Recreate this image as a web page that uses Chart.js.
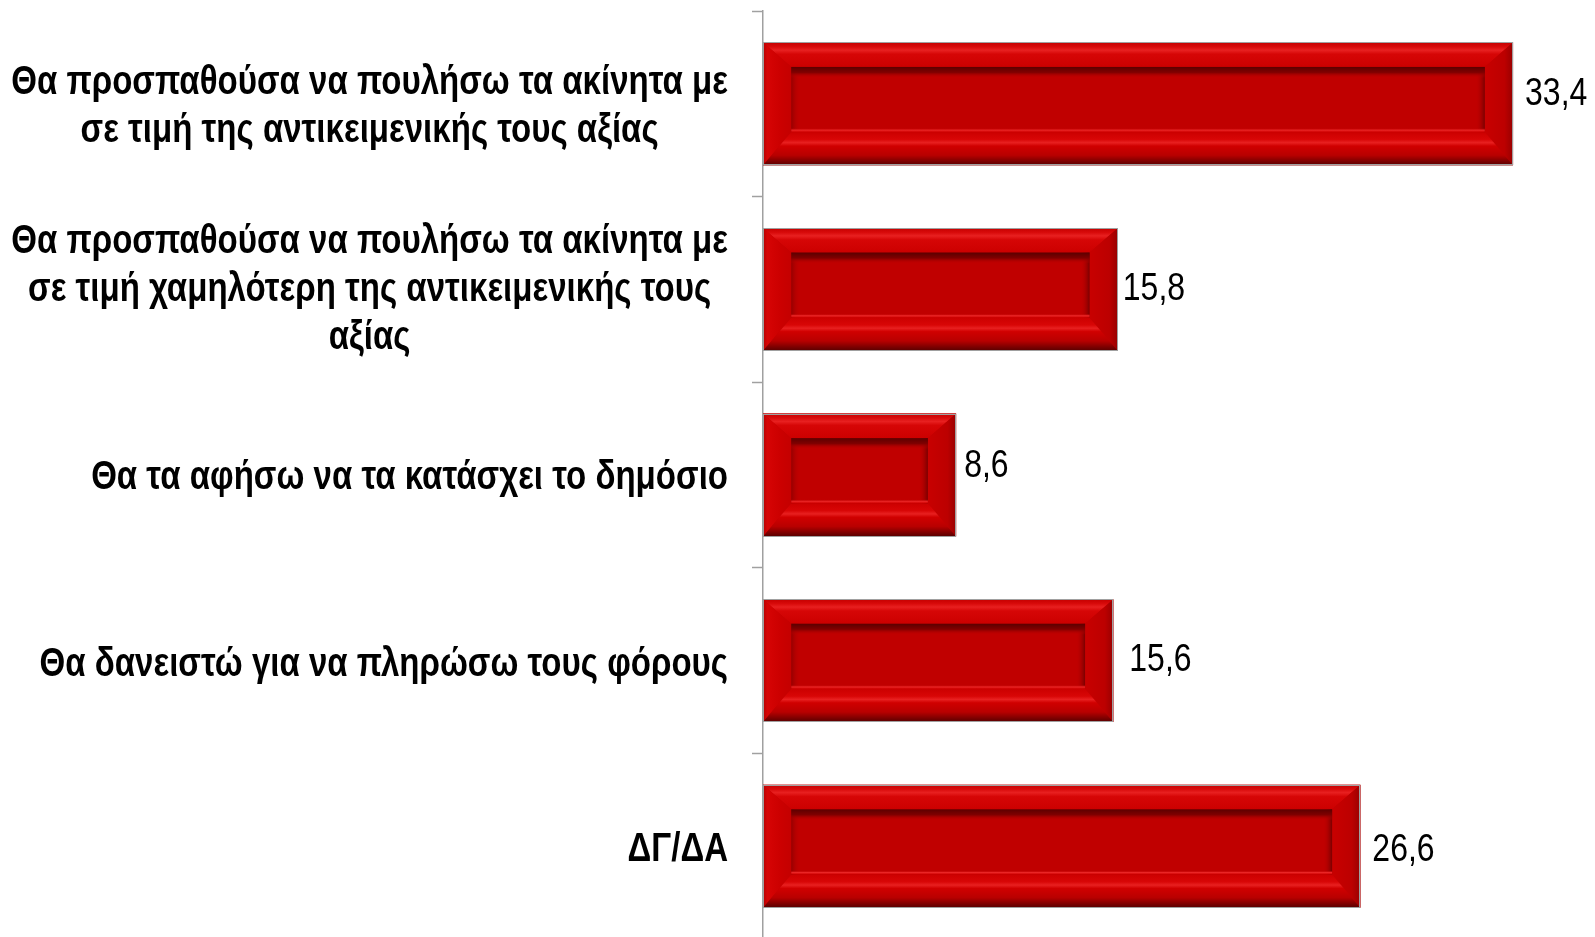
<!DOCTYPE html>
<html>
<head>
<meta charset="utf-8">
<script src="https://cdn.jsdelivr.net/npm/chart.js@4.4.1/dist/chart.umd.min.js"></script>
<style>
  html, body { margin: 0; padding: 0; background: #fff; overflow: hidden; }
  #wrap { width: 1595px; height: 942px; }
</style>
</head>
<body>
<div id="wrap"><canvas id="chart" width="1595" height="942"></canvas></div>
<script>
// ----- Data -----
const categories = [
  ["Θα προσπαθούσα να πουλήσω τα ακίνητα με", "σε τιμή της αντικειμενικής τους αξίας"],
  ["Θα προσπαθούσα να πουλήσω τα ακίνητα με", "σε τιμή χαμηλότερη της αντικειμενικής τους", "αξίας"],
  ["Θα τα αφήσω να τα κατάσχει το δημόσιο"],
  ["Θα δανειστώ για να πληρώσω τους φόρους"],
  ["ΔΓ/ΔΑ"]
];
const values = [33.4, 15.8, 8.6, 15.6, 26.6];
const xMin = 0;
const xMax = 35;

// the labels in the original were nudged by hand (px)
const labelDx = [12, 5, 8, 16, 12];
const labelDy = [-13, -3, -12.5, -4, 1];
const categoryDy = [-2, -4, -2, -1, -1];

const AXIS_GREY = "#a0a0a0";
const FONT = '"Liberation Sans", Arial, sans-serif';
// Arial Narrow ~ Arial squeezed horizontally
const NARROW_VAL = 0.82;
const NARROW_CAT = 0.806;

// ----- Helpers -----
function fmt(v) {
  return v.toFixed(1).replace(".", ",");
}

function narrowText(ctx, text, x, y, sx) {
  ctx.save();
  ctx.translate(x, y);
  ctx.scale(sx, 1);
  ctx.fillText(text, 0, 0);
  ctx.restore();
}

function grad(ctx, x0, y0, x1, y1, stops) {
  const g = ctx.createLinearGradient(x0, y0, x1, y1);
  stops.forEach(s => g.addColorStop(s[0], s[1]));
  return g;
}

function poly(ctx, pts, fill) {
  ctx.beginPath();
  ctx.moveTo(pts[0][0], pts[0][1]);
  for (let i = 1; i < pts.length; i++) ctx.lineTo(pts[i][0], pts[i][1]);
  ctx.closePath();
  ctx.fillStyle = fill;
  ctx.fill();
}

// Excel-style "frame" bevel drawn on top of a plain bar
function drawBevel(ctx, x0, y0, x1, y1) {
  const H = y1 - y0;
  const tT = H * 0.2, tB = H * 0.27, tS = H * 0.23;
  const ix0 = x0 + tS, ix1 = x1 - tS, iy0 = y0 + tT, iy1 = y1 - tB;

  // outer frame: four mitred bands
  poly(ctx, [[x0, y0], [x1, y0], [ix1, iy0], [ix0, iy0]],
    grad(ctx, 0, y0, 0, iy0, [[0, "#c40000"], [0.18, "#d80a0a"], [0.32, "#e82020"], [0.48, "#d60606"], [1, "#cc0000"]]));
  poly(ctx, [[x0, y0], [ix0, iy0], [ix0, iy1], [x0, y1]],
    grad(ctx, x0, 0, ix0, 0, [[0, "#b40000"], [0.15, "#d60404"], [0.6, "#cc0000"], [1, "#c40000"]]));
  poly(ctx, [[x1, y0], [x1, y1], [ix1, iy1], [ix1, iy0]],
    grad(ctx, ix1, 0, x1, 0, [[0, "#c80000"], [0.7, "#bc0000"], [1, "#980000"]]));
  poly(ctx, [[x0, y1], [ix0, iy1], [ix1, iy1], [x1, y1]],
    grad(ctx, 0, iy1, 0, y1, [[0, "#cc0000"], [0.22, "#d80606"], [0.32, "#e82020"], [0.42, "#d00000"], [0.7, "#b80000"], [1, "#580000"]]));

  // inner panel
  ctx.fillStyle = "#c00000";
  ctx.fillRect(ix0, iy0, ix1 - ix0, iy1 - iy0);
  // inner walls
  ctx.fillStyle = grad(ctx, ix0, 0, ix0 + 9, 0, [[0, "#960000"], [1, "rgba(192,0,0,0)"]]);
  ctx.fillRect(ix0, iy0, 9, iy1 - iy0);
  ctx.fillStyle = grad(ctx, ix1 - 9, 0, ix1, 0, [[0, "rgba(192,0,0,0)"], [1, "#7a0000"]]);
  ctx.fillRect(ix1 - 9, iy0, 9, iy1 - iy0);
  ctx.fillStyle = grad(ctx, 0, iy0, 0, iy0 + 11, [[0, "#5c0000"], [0.5, "#800000"], [1, "rgba(192,0,0,0)"]]);
  ctx.fillRect(ix0, iy0, ix1 - ix0, 11);
  ctx.fillStyle = grad(ctx, 0, iy1 - 4, 0, iy1, [[0, "rgba(192,0,0,0)"], [0.5, "#ea2626"], [1, "#d00000"]]);
  ctx.fillRect(ix0, iy1 - 4, ix1 - ix0, 4);

  // thin grey outline
  ctx.strokeStyle = AXIS_GREY;
  ctx.lineWidth = 1;
  ctx.strokeRect(Math.round(x0) + 0.5, Math.round(y0) + 0.5, Math.round(x1 - x0) - 1, Math.round(y1 - y0) - 1);
}

// ----- Plugins -----
const bevelPlugin = {
  id: "bevel",
  afterDatasetsDraw(chart) {
    const ctx = chart.ctx;
    const meta = chart.getDatasetMeta(0);
    ctx.save();
    meta.data.forEach(el => {
      const p = el.getProps(["x", "y", "base", "height"], true);
      drawBevel(ctx, p.base, p.y - p.height / 2, p.x, p.y + p.height / 2);
    });
    ctx.restore();
  }
};

const valueLabelPlugin = {
  id: "valueLabels",
  afterDatasetsDraw(chart) {
    const ctx = chart.ctx;
    const meta = chart.getDatasetMeta(0);
    ctx.save();
    ctx.font = "39px " + FONT;
    ctx.fillStyle = "#000";
    ctx.textAlign = "left";
    ctx.textBaseline = "alphabetic";
    meta.data.forEach((el, i) => {
      const p = el.getProps(["x", "y"], true);
      // digits are ~28px tall, so baseline sits 14px below their middle
      narrowText(ctx, fmt(values[i]), p.x + labelDx[i], p.y + labelDy[i] + 14, NARROW_VAL);
    });
    ctx.restore();
  }
};

// category labels: block right-aligned to the axis, lines centred inside the block
const categoryLabelPlugin = {
  id: "categoryLabels",
  afterDraw(chart) {
    const ctx = chart.ctx;
    const yScale = chart.scales.y;
    const blockRight = yScale.right - 11 - 24;
    const lineH = 48;
    ctx.save();
    ctx.font = "bold 41px " + FONT;
    ctx.fillStyle = "#000";
    ctx.textAlign = "center";
    ctx.textBaseline = "alphabetic";
    categories.forEach((lines, i) => {
      const yc = yScale.getPixelForValue(i) + categoryDy[i];
      const widest = Math.max(...lines.map(l => ctx.measureText(l).width)) * NARROW_CAT;
      const cx = blockRight - widest / 2;
      lines.forEach((l, k) => {
        narrowText(ctx, l, cx, yc + (k - (lines.length - 1) / 2) * lineH + 16, NARROW_CAT);
      });
    });
    ctx.restore();
  }
};

// ----- Chart -----
const ctx = document.getElementById("chart").getContext("2d");
new Chart(ctx, {
  type: "bar",
  data: {
    labels: categories.map(c => c.join(" ")),
    datasets: [{
      data: values,
      backgroundColor: "#c00000",
      borderWidth: 0,
      barPercentage: 0.662,
      categoryPercentage: 1
    }]
  },
  options: {
    indexAxis: "y",
    responsive: false,
    animation: false,
    devicePixelRatio: 1,
    layout: { padding: { top: 11, right: 46, bottom: 3, left: 0 } },
    plugins: {
      legend: { display: false },
      tooltip: { enabled: false }
    },
    scales: {
      x: { display: false, min: xMin, max: xMax },
      y: {
        afterFit(scale) { scale.width = 763; },
        ticks: { display: false },
        grid: {
          display: true,
          offset: true,
          drawOnChartArea: false,
          drawTicks: true,
          tickLength: 11,
          tickWidth: 1.5,
          color: AXIS_GREY
        },
        border: { display: true, color: AXIS_GREY, width: 1.5 }
      }
    }
  },
  plugins: [bevelPlugin, valueLabelPlugin, categoryLabelPlugin]
});
</script>
</body>
</html>
